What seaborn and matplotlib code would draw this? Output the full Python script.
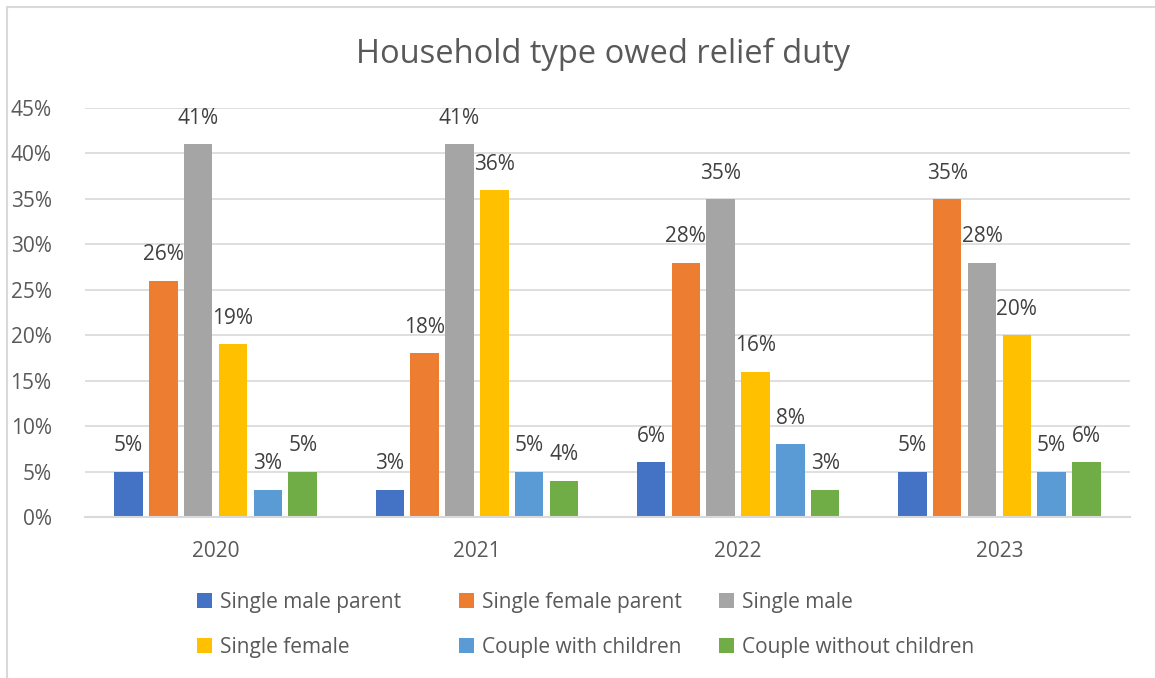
import matplotlib
matplotlib.use("Agg")
import matplotlib.pyplot as plt
from matplotlib.patches import Rectangle
from matplotlib.ticker import PercentFormatter
import seaborn as sns
import pandas as pd

years = ["2020", "2021", "2022", "2023"]
household_types = [
    "Single male parent",
    "Single female parent",
    "Single male",
    "Single female",
    "Couple with children",
    "Couple without children",
]
single_male_parent = [5, 3, 6, 5]
single_female_parent = [26, 18, 28, 35]
single_male = [41, 41, 35, 28]
single_female = [19, 36, 16, 20]
couple_with_children = [3, 5, 8, 5]
couple_without_children = [5, 4, 3, 6]

series = [
    single_male_parent,
    single_female_parent,
    single_male,
    single_female,
    couple_with_children,
    couple_without_children,
]
colors = ["#4472C4", "#ED7D31", "#A5A5A5", "#FFC000", "#5B9BD5", "#70AD47"]

rows = []
for name, vals in zip(household_types, series):
    for yr, v in zip(years, vals):
        rows.append({"Year": yr, "Type": name, "Share": v})
df = pd.DataFrame(rows)

sns.set_theme(style="white")
plt.rcParams["font.family"] = ["Open Sans", "DejaVu Sans"]
text_color = "#595959"
fs = 15

fig = plt.figure(figsize=(11.55, 6.78), dpi=100)
ax = fig.add_axes([85 / 1155, 161 / 678, 1045 / 1155, 409 / 678])

sns.barplot(
    data=df, x="Year", y="Share", hue="Type", order=years,
    hue_order=household_types, palette=colors, width=0.8, gap=0.18,
    saturation=1, linewidth=0, ax=ax, legend=True, errorbar=None,
)

ax.set_ylim(0, 45)
ax.set_xlim(-0.5, 3.5)
ax.set_yticks(range(0, 46, 5))
ax.yaxis.set_major_formatter(PercentFormatter(decimals=0))
ax.grid(axis="y", color="#D9D9D9", linewidth=1.2)
ax.set_axisbelow(True)
for side in ["top", "right", "left"]:
    ax.spines[side].set_visible(False)
ax.spines["bottom"].set_color("#D9D9D9")
ax.spines["bottom"].set_linewidth(1.5)
ax.tick_params(axis="both", length=0, labelsize=fs, colors=text_color)
ax.tick_params(axis="y", pad=24)
ax.tick_params(axis="x", pad=17)
ax.set_xlabel("")
ax.set_ylabel("")

for container in ax.containers:
    ax.bar_label(container, fmt="%g%%", padding=11, fontsize=fs, color="#404040")

handles, labels = ax.get_legend_handles_labels()
ax.get_legend().remove()

# legend laid out as three equal-width columns, filled row by row
col_x = [197 / 1155, 459 / 1155, 719 / 1155]
for c, x in enumerate(col_x):
    idx = [c, c + 3]
    fig.legend(
        [handles[i] for i in idx], [labels[i] for i in idx],
        loc="upper left", bbox_to_anchor=(x, 1 - 592 / 678),
        frameon=False, fontsize=fs, labelcolor=text_color,
        handlelength=0.7, handleheight=0.7, handletextpad=0.4,
        labelspacing=1.15, borderpad=0, borderaxespad=0,
    )

fig.suptitle("Household type owed relief duty", x=0.522, y=0.945,
             fontsize=23.5, color=text_color)

# outer chart frame
fig.patches.append(Rectangle((7 / 1155, -0.05), 1.1, (671 / 678) + 0.05,
                             transform=fig.transFigure, fill=False,
                             edgecolor="#D9D9D9", linewidth=1.5))

fig.savefig("out.png", dpi=100)
